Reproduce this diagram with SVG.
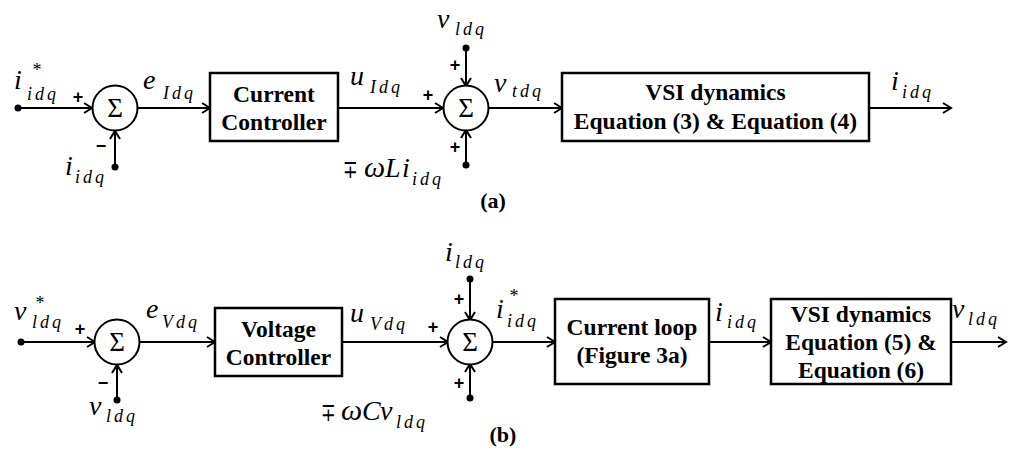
<svg xmlns="http://www.w3.org/2000/svg" width="1014" height="450" viewBox="0 0 1014 450">
<defs>
<style>
text{font-family:"Liberation Serif","Times New Roman","DejaVu Serif",serif;fill:#000}
.m{font-style:italic;font-size:28px}
.g{font-style:italic;font-size:30px}
.up{font-size:25px}
.s{font-style:italic;font-size:18px;letter-spacing:3px}
.st{font-size:18px;text-anchor:middle}
.b{font-weight:bold;font-size:23.5px;text-anchor:middle}
.pm{font-family:"Liberation Sans",Arial,sans-serif;font-weight:bold;font-size:18px;text-anchor:middle}
.sig{font-size:27px;text-anchor:middle}
.cap{font-weight:bold;font-size:22px;text-anchor:middle}
.ln{stroke:#000;stroke-width:2;fill:none}
.bx{stroke:#000;stroke-width:2.5;fill:#fff}
.cir{stroke:#000;stroke-width:2;fill:#fff}
.dot{fill:#000}
</style>
<marker id="ar" markerWidth="12" markerHeight="12" refX="10" refY="6" orient="auto" markerUnits="userSpaceOnUse">
<path d="M2,1 L10,6 L2,11" fill="none" stroke="#000" stroke-width="2"/>
</marker>
</defs>
<rect width="1014" height="450" fill="#fff"/>

<g id="connectors">
<!-- row a -->
<line class="ln" x1="18" y1="108" x2="92" y2="108" marker-end="url(#ar)"/>
<line class="ln" x1="115" y1="167" x2="115" y2="131" marker-end="url(#ar)"/>
<line class="ln" x1="138" y1="108" x2="210" y2="108" marker-end="url(#ar)"/>
<line class="ln" x1="338" y1="108" x2="443" y2="108" marker-end="url(#ar)"/>
<line class="ln" x1="466" y1="48" x2="466" y2="86" marker-end="url(#ar)"/>
<line class="ln" x1="466" y1="165" x2="466" y2="130" marker-end="url(#ar)"/>
<line class="ln" x1="488" y1="108" x2="562" y2="108" marker-end="url(#ar)"/>
<line class="ln" x1="869" y1="108" x2="951" y2="108" marker-end="url(#ar)"/>
<!-- row b -->
<line class="ln" x1="21" y1="342" x2="95" y2="342" marker-end="url(#ar)"/>
<line class="ln" x1="117" y1="400" x2="117" y2="365" marker-end="url(#ar)"/>
<line class="ln" x1="140" y1="342" x2="215" y2="342" marker-end="url(#ar)"/>
<line class="ln" x1="342" y1="342" x2="448" y2="342" marker-end="url(#ar)"/>
<line class="ln" x1="470" y1="279" x2="470" y2="320" marker-end="url(#ar)"/>
<line class="ln" x1="470" y1="398" x2="470" y2="364" marker-end="url(#ar)"/>
<line class="ln" x1="492" y1="342" x2="555" y2="342" marker-end="url(#ar)"/>
<line class="ln" x1="709" y1="342" x2="771" y2="342" marker-end="url(#ar)"/>
<line class="ln" x1="951" y1="342" x2="1006" y2="342" marker-end="url(#ar)"/>
<!-- dots -->
<circle class="dot" cx="18" cy="108" r="3.5"/>
<circle class="dot" cx="115" cy="167" r="3.5"/>
<circle class="dot" cx="466" cy="48" r="3.5"/>
<circle class="dot" cx="466" cy="165" r="3.5"/>
<circle class="dot" cx="21" cy="342" r="3.5"/>
<circle class="dot" cx="117" cy="400" r="3.5"/>
<circle class="dot" cx="470" cy="279" r="3.5"/>
<circle class="dot" cx="470" cy="398" r="3.5"/>
</g>

<!-- row a nodes -->
<g id="sum1">
<circle class="cir" cx="115" cy="108" r="22.5"/>
<text class="sig" x="115" y="117">Σ</text>
<text class="pm" x="78" y="103">+</text>
<text class="pm" x="101" y="152">−</text>
</g>
<g id="ctrl1">
<rect class="bx" x="210" y="73" width="128" height="68"/>
<text class="b" x="274" y="102">Current</text>
<text class="b" x="274" y="130">Controller</text>
</g>
<g id="sum2">
<circle class="cir" cx="466" cy="108" r="22.5"/>
<text class="sig" x="466" y="117">Σ</text>
<text class="pm" x="428" y="101">+</text>
<text class="pm" x="455" y="71">+</text>
<text class="pm" x="455" y="153">+</text>
</g>
<g id="vsi1">
<rect class="bx" x="562" y="73" width="307" height="68"/>
<text class="b" x="715.5" y="100">VSI dynamics</text>
<text class="b" x="715.5" y="129">Equation (3) &amp; Equation (4)</text>
</g>

<!-- row b nodes -->
<g id="sum3">
<circle class="cir" cx="117" cy="342" r="22.5"/>
<text class="sig" x="117" y="351">Σ</text>
<text class="pm" x="80" y="335">+</text>
<text class="pm" x="103" y="389">−</text>
</g>
<g id="ctrl2">
<rect class="bx" x="215" y="308" width="127" height="68"/>
<text class="b" x="278.5" y="337">Voltage</text>
<text class="b" x="278.5" y="365">Controller</text>
</g>
<g id="sum4">
<circle class="cir" cx="470" cy="342" r="22.5"/>
<text class="sig" x="470" y="351">Σ</text>
<text class="pm" x="433" y="333">+</text>
<text class="pm" x="459" y="305">+</text>
<text class="pm" x="459" y="389">+</text>
</g>
<g id="loop">
<rect class="bx" x="555" y="299" width="154" height="85"/>
<text class="b" x="632" y="335">Current loop</text>
<text class="b" x="632" y="363">(Figure 3a)</text>
</g>
<g id="vsi2">
<rect class="bx" x="771" y="299" width="180" height="85"/>
<text class="b" x="861" y="322">VSI dynamics</text>
<text class="b" x="861" y="350">Equation (5) &amp;</text>
<text class="b" x="861" y="378">Equation (6)</text>
</g>

<g id="labels">
<!-- row a -->
<text class="m" x="14" y="89">i</text><text class="st" x="37" y="76">*</text><text class="s" x="27" y="100">idq</text>
<text class="m" x="65" y="175">i</text><text class="s" x="75" y="183">idq</text>
<text class="m" x="143" y="89">e</text><text class="s" x="163" y="99">Idq</text>
<text class="m" x="350" y="85">u</text><text class="s" x="370" y="93">Idq</text>
<text class="m" x="437" y="28">v</text><text class="s" x="455" y="35">ldq</text>
<text class="up" x="343" y="178" textLength="15" lengthAdjust="spacingAndGlyphs">∓</text><text class="g" x="364" y="177">ω</text><text class="m" x="385" y="177">L</text><text class="m" x="402" y="177">i</text><text class="s" x="412" y="185">idq</text>
<text class="m" x="494" y="92">v</text><text class="s" x="512" y="97">tdq</text>
<text class="m" x="891" y="90">i</text><text class="s" x="902" y="98">idq</text>
<text class="cap" x="493" y="208">(a)</text>
<!-- row b -->
<text class="m" x="14" y="320">v</text><text class="st" x="40" y="309">*</text><text class="s" x="32" y="328">ldq</text>
<text class="m" x="89" y="415">v</text><text class="s" x="106" y="422">ldq</text>
<text class="m" x="146" y="318">e</text><text class="s" x="162" y="328">Vdq</text>
<text class="m" x="350" y="322">u</text><text class="s" x="370" y="330">Vdq</text>
<text class="m" x="445" y="261">i</text><text class="s" x="455" y="268">ldq</text>
<text class="up" x="321" y="421" textLength="15" lengthAdjust="spacingAndGlyphs">∓</text><text class="g" x="341" y="420">ω</text><text class="m" x="362" y="420">C</text><text class="m" x="380" y="420">v</text><text class="s" x="396" y="428">ldq</text>
<text class="m" x="496" y="318">i</text><text class="st" x="514" y="302">*</text><text class="s" x="507" y="327">idq</text>
<text class="m" x="715" y="321">i</text><text class="s" x="727" y="328">idq</text>
<text class="m" x="952" y="318">v</text><text class="s" x="968" y="325">ldq</text>
<text class="cap" x="503" y="442">(b)</text>
</g>
</svg>
